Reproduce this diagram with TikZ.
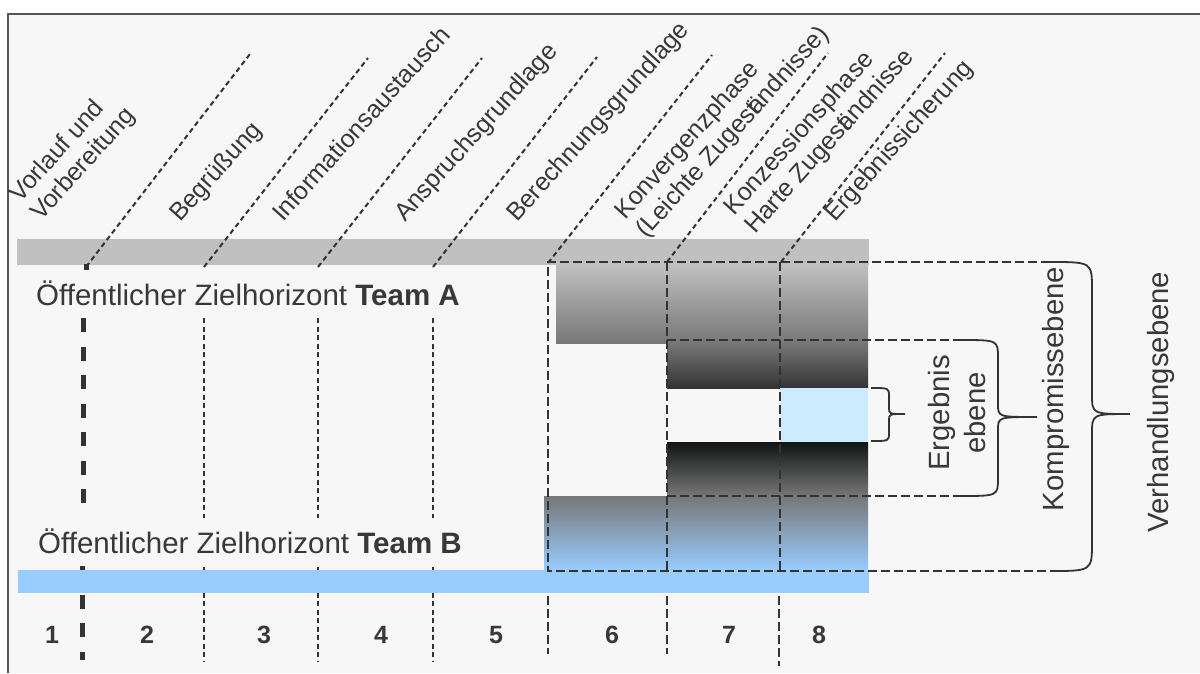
\documentclass[tikz,border=0pt]{standalone}
\usepackage{fontspec}
\setmainfont{Liberation Sans}
\definecolor{bgc}{HTML}{F7F7F7}
\definecolor{framec}{HTML}{555555}
\definecolor{linec}{HTML}{333333}
\definecolor{textc}{HTML}{383838}
\definecolor{barA}{HTML}{C0C0C0}
\definecolor{barB}{HTML}{99CCFF}
\definecolor{gmid}{HTML}{777777}
\definecolor{gdark}{HTML}{333333}
\definecolor{gblack}{HTML}{111414}
\definecolor{resc}{HTML}{CCEBFF}
\begin{document}
\begin{tikzpicture}[x=1pt,y=-1pt,
  thindash/.style={draw=linec, line width=2pt, dash pattern=on 5pt off 3.5pt},
  boxdash/.style={draw=linec, line width=2.8pt, dash pattern=on 9pt off 4pt},
  heavydash/.style={draw=linec, line width=5pt, dash pattern=on 14pt off 14.5pt},
  bracepath/.style={draw=linec, line width=1.8pt},
  phaselabel/.style={rotate=48, anchor=base west, inner sep=0pt, align=left,
    font=\fontsize{25}{28}\selectfont, text=textc},
  levellabel/.style={rotate=90, inner sep=0pt, align=center,
    font=\fontsize{29.3}{36}\selectfont, text=textc},
  teamlabel/.style={anchor=base west, inner sep=0pt,
    font=\fontsize{29.5}{34}\selectfont, text=textc},
  numlabel/.style={anchor=base, inner sep=0pt,
    font=\fontsize{25}{30}\selectfont\bfseries, text=textc}]

\useasboundingbox (0,0) rectangle (1200,673);
\fill[white] (0,0) rectangle (1200,673);
\fill[bgc] (8,14) rectangle (1200,673);
\draw[framec, line width=2pt] (8,673) -- (8,14) -- (1200,14);

% horizon of team A
\fill[barA] (17,239) rectangle (869,265);

% shaded target areas
\shade[top color=barA, bottom color=gmid] (556,265) rectangle (868,343);
\shade[top color=gmid, bottom color=gdark] (667,343) rectangle (868,388);
\fill[resc] (780,388) rectangle (868,442);
\shade[top color=gblack, bottom color=gmid] (667,442) rectangle (868,496);
\shade[top color=gmid, bottom color=barB] (544,496) rectangle (868,570);

% phase separators, columns 1-4
\draw[heavydash] (83,318) -- (83,516);
\draw[heavydash] (82,566) -- (82,660);
\draw[linec, line width=5pt] (86,264) -- (86,270);
\foreach \cx in {204,318,433} {
  \draw[thindash] (\cx,318) -- (\cx,518);
  \draw[thindash] (\cx,567) -- (\cx,662);
}

% horizon of team B
\fill[barB] (18,570) rectangle (869,593);

% slanted leaders to the phase names
\foreach \bx/\by/\tx/\ty in {86/267/250/54, 204/267/368/58, 318/267/482/58,
  433/267/597/57, 548/263/712/55, 667/262/828/53, 781/262/945/53} {
  \draw[thindash] (\bx,\by) -- (\tx,\ty);
}

% negotiation frame and inner levels
\draw[boxdash] (1050,262) -- (548,262) -- (548,571) -- (1050,571);
\draw[boxdash] (667,340) -- (960,340);
\draw[boxdash] (667,496) -- (960,496);
\draw[boxdash] (667,262) -- (667,571);
\draw[boxdash] (780,262) -- (780,571);
\draw[boxdash] (548,596) -- (548,654);
\draw[boxdash] (667,596) -- (667,654);
\draw[boxdash] (779,596) -- (779,666);

% braces
\draw[bracepath] (1050,262) .. controls (1092,262) .. (1092,290) -- (1092,394)
  .. controls (1092,414) .. (1130,414) .. controls (1092,414) .. (1092,434)
  -- (1092,542) .. controls (1092,571) .. (1050,571);
\draw[bracepath] (960,340) .. controls (998,340) .. (998,358) -- (998,404)
  .. controls (998,417) .. (1037,417) .. controls (998,417) .. (998,430)
  -- (998,478) .. controls (998,496) .. (960,496);
\draw[bracepath] (871,388) .. controls (889,388) .. (889,396) -- (889,408)
  .. controls (889,414) .. (905,414) .. controls (889,414) .. (889,420)
  -- (889,433) .. controls (889,441) .. (871,441);

% phase names (two-line names are placed by their last line)
\node[phaselabel] (p1) at (41,222) {Vorlauf und\\Vorbereitung};
\node[phaselabel] (p2) at (180,223) {Begrüßung};
\node[phaselabel] (p3) at (283,223) {Informationsaustausch};
\node[phaselabel] (p4) at (405,223) {Anspruchsgrundlage};
\node[phaselabel] (p5) at (517,223) {Berechnungsgrundlage};
\node[phaselabel] (p6) at (646,239) {Konvergenzphase\\(Leichte Zugest\kern-0.25em ändnisse)};
\node[phaselabel] (p7) at (755,235) {Konzessionsphase\\Harte Zugest\kern-0.25em ändnisse};
\node[phaselabel] (p8) at (835,223) {Ergebnissicherung};

% team horizons
\node[teamlabel] (ta) at (36,305) {Öffentlicher Zielhorizont \textbf{Team A}};
\node[teamlabel] (tb) at (38,553) {Öffentlicher Zielhorizont \textbf{Team B}};

% level names
\node[levellabel] (lv1) at (957,413) {Ergebnis\\ebene};
\node[levellabel, anchor=base] (lv2) at (1063,389) {Kompromissebene};
\node[levellabel, anchor=base] (lv3) at (1168,402) {Verhandlungsebene};

% phase numbers
\foreach \nx/\nn in {52/1,147/2,264/3,381/4,496/5,612/6,729/7,819/8} {
  \node[numlabel] (n\nn) at (\nx,643) {\nn};
}
\end{tikzpicture}
\end{document}
